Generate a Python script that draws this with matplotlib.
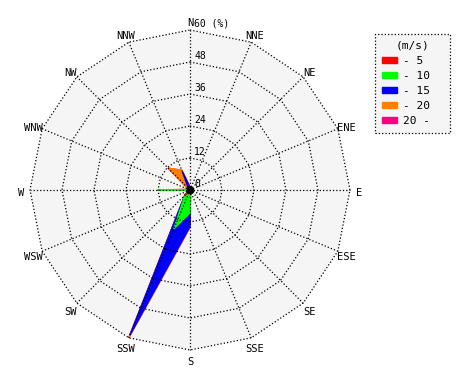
import numpy as np
import matplotlib.pyplot as plt
from matplotlib.patches import Polygon, Patch

plt.rcParams['font.family'] = ['DejaVu Sans Mono', 'DejaVu Sans']

# 16 compass directions, clockwise from north
directions = ['N', 'NNE', 'NE', 'ENE', 'E', 'ESE', 'SE', 'SSE',
              'S', 'SSW', 'SW', 'WSW', 'W', 'WNW', 'NW', 'NNW']

# frequency (%) per speed class, per direction
spd_5 = [0.3, 0.2, 0.2, 0.2, 0.2, 0.2, 0.2, 0.3, 0.5, 0.8, 2.7, 0.3, 0.5, 0.3, 0.4, 0.5]
spd_10 = [0.2, 0.0, 0.0, 0.0, 0.0, 0.0, 0.0, 0.2, 8.1, 15.0, 0.0, 0.0, 11.5, 0.0, 0.2, 0.3]
spd_15 = [0.5, 0.0, 0.0, 0.0, 0.0, 0.0, 0.0, 0.0, 5.1, 43.2, 0.0, 0.0, 0.0, 0.0, 0.3, 6.6]
spd_20 = [0.2, 0.0, 0.0, 0.0, 0.0, 0.0, 0.0, 0.0, 0.3, 1.0, 0.0, 0.0, 0.0, 0.3, 10.7, 0.6]
spd_over = [0.0, 0.0, 0.0, 0.0, 0.0, 0.0, 0.0, 0.0, 0.0, 0.0, 0.0, 0.0, 0.0, 0.0, 0.0, 0.0]

speed_labels = ['- 5', '- 10', '- 15', '- 20', '20 -']
colors = ['#ff0000', '#00ff00', '#0000ff', '#ff8000', '#ff0080']
rings = [12, 24, 36, 48, 60]

theta = np.deg2rad(np.arange(len(directions)) * 22.5)


def to_xy(r):
    r = np.broadcast_to(np.asarray(r, dtype=float), theta.shape)
    return np.column_stack([r * np.sin(theta), r * np.cos(theta)])


fig = plt.figure(figsize=(4.7, 3.8), dpi=100)
ax = fig.add_axes([0, 0, 1, 1])
ax.set_xlim(-71.25, 105.0)
ax.set_ylim(-71.25, 71.25)
ax.axis('off')

# plot area background
ax.add_patch(Polygon(to_xy(rings[-1]), closed=True, facecolor='#f5f5f5',
                     edgecolor='none', zorder=0))

# cumulative polygons, outermost class first
cum = np.cumsum([spd_5, spd_10, spd_15, spd_20, spd_over], axis=0)
for vals, c in reversed(list(zip(cum, colors))):
    ax.add_patch(Polygon(to_xy(vals), closed=True, facecolor=c, edgecolor=c,
                         lw=1, zorder=2))

# grid: rings and spokes
for r in rings:
    pts = to_xy(r)
    pts = np.vstack([pts, pts[:1]])
    ax.plot(pts[:, 0], pts[:, 1], ls=':', color='black', lw=0.9, zorder=3)
outer = to_xy(rings[-1])
for x, y in outer:
    ax.plot([0, x], [0, y], ls=':', color='black', lw=0.9, zorder=3)

ax.plot(0, 0, 'o', color='black', ms=4.5, zorder=4)

# direction labels
for (x, y), d in zip(to_xy(63.4), directions):
    ax.text(x, y - 0.95, d, ha='center', va='center', fontsize=7.5)

# radial labels
for r in [0] + rings:
    lab = '60 (%)' if r == 60 else str(r)
    ax.text(1.6, r + 0.4, lab, ha='left', va='bottom', fontsize=7, zorder=5)

handles = [Patch(facecolor=c, edgecolor=c) for c in colors]
leg = ax.legend(handles, speed_labels, title='(m/s)', loc='upper left',
                bbox_to_anchor=(375 / 470, 1 - 38 / 380, 75 / 470, 0.01),
                bbox_transform=fig.transFigure, mode='expand',
                fontsize=8, title_fontsize=8, fancybox=False, framealpha=1,
                handlelength=1.4, handleheight=0.5, handletextpad=0.5,
                labelspacing=0.45, borderpad=0.6, borderaxespad=0)
frame = leg.get_frame()
frame.set_linestyle(':')
frame.set_edgecolor('black')
frame.set_facecolor('#f5f5f5')
frame.set_linewidth(0.9)

plt.savefig('out.png', dpi=100)
